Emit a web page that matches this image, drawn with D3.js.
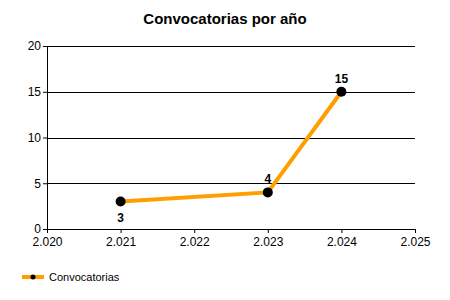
<!DOCTYPE html>
<html>
<head>
<meta charset="utf-8">
<script src="https://cdn.jsdelivr.net/npm/d3@7"></script>
<style>
body { margin: 0; background: #fff; }
text { font-family: "Liberation Sans", Arial, sans-serif; }
</style>
</head>
<body>
<div id="chart"></div>
<script>
// data
var years = [2021, 2023, 2024];
var counts = [3, 4, 15];
var xTicks = [2020, 2021, 2022, 2023, 2024, 2025];
var yTicks = [0, 5, 10, 15, 20];
var labelPos = ["below", "above", "above"];

var W = 450, H = 300;
var margin = {top: 46, right: 35, bottom: 71, left: 47};
var width = W - margin.left - margin.right,
    height = H - margin.top - margin.bottom;

var es = d3.formatLocale({decimal: ",", thousands: ".", grouping: [3], currency: ["", " €"]});
var fmt = es.format(",.0f");

var svg = d3.select("#chart").append("svg")
  .attr("width", W).attr("height", H);

svg.append("text")
  .attr("x", 225).attr("y", 24)
  .attr("text-anchor", "middle")
  .style("font-weight", "bold").style("font-size", "15px")
  .text("Convocatorias por año");

var g = svg.append("g").attr("transform", "translate(" + margin.left + "," + margin.top + ")");

var x = d3.scaleLinear().domain([2020, 2025]).range([0, width]);
var y = d3.scaleLinear().domain([0, 20]).range([height, 0]);

// grid lines
g.selectAll(".grid").data(yTicks.slice(1)).enter().append("line")
  .attr("x1", 0).attr("x2", width)
  .attr("y1", function(d) { return Math.round(y(d)) + 0.5; })
  .attr("y2", function(d) { return Math.round(y(d)) + 0.5; })
  .attr("stroke", "#000").attr("stroke-width", 1);

var yAxis = g.append("g")
  .call(d3.axisLeft(y).tickValues(yTicks).tickSize(4).tickPadding(2));
var xAxis = g.append("g")
  .attr("transform", "translate(0," + height + ")")
  .call(d3.axisBottom(x).tickValues(xTicks).tickFormat(fmt).tickSize(4).tickPadding(4));

[yAxis, xAxis].forEach(function(a) {
  a.select(".domain").attr("stroke", "#000");
  a.selectAll("line").attr("stroke", "#000");
  a.selectAll("text").style("font-size", "12px").attr("fill", "#000")
    .style("font-family", "'Liberation Sans', Arial, sans-serif");
});

var pts = years.map(function(d, i) { return {year: d, value: counts[i], pos: labelPos[i]}; });

var line = d3.line()
  .x(function(d) { return x(d.year); })
  .y(function(d) { return y(d.value); });

g.append("path")
  .attr("d", line(pts))
  .attr("fill", "none")
  .attr("stroke", "#FF9E00")
  .attr("stroke-width", 4);

g.selectAll(".dot").data(pts).enter().append("circle")
  .attr("cx", function(d) { return x(d.year); })
  .attr("cy", function(d) { return y(d.value); })
  .attr("r", 5)
  .attr("fill", "#000");

g.selectAll(".lbl").data(pts).enter().append("text")
  .attr("x", function(d) { return x(d.year); })
  .attr("y", function(d) { return y(d.value) + (d.pos == "below" ? 20 : -9); })
  .attr("text-anchor", "middle")
  .style("font-weight", "bold").style("font-size", "12px")
  .text(function(d) { return d.value; });

// legend
var leg = svg.append("g").attr("transform", "translate(22,277)");
leg.append("line").attr("x1", 0).attr("x2", 22).attr("y1", 0).attr("y2", 0)
  .attr("stroke", "#FF9E00").attr("stroke-width", 4);
leg.append("circle").attr("cx", 11).attr("cy", 0).attr("r", 2.5).attr("fill", "#000");
leg.append("text").attr("x", 27).attr("y", 4).style("font-size", "11px").text("Convocatorias");
</script>
</body>
</html>
